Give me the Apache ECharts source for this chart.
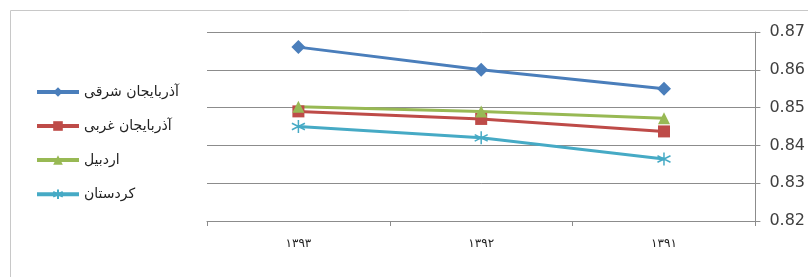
<!DOCTYPE html>
<html>
<head>
<meta charset="utf-8">
<script src="https://cdn.jsdelivr.net/npm/echarts@6/dist/echarts.min.js"></script>
<style>
  html, body { margin: 0; padding: 0; background: #fff; }
  #main { width: 808px; height: 277px; }
</style>
</head>
<body>
<div id="main"></div>
<script>
// years (Persian digits), left to right as in the picture
var years = ['۱۳۹۳', '۱۳۹۲', '۱۳۹۱'];
var names = ['آذربایجان شرقی', 'آذربایجان غربی', 'اردبیل', 'کردستان'];
var eastAzarbaijan = [0.866, 0.860, 0.855];
var westAzarbaijan = [0.849, 0.847, 0.8437];
var ardabil = [0.8502, 0.849, 0.8472];
var kurdistan = [0.845, 0.842, 0.8364];

var colors = ['#4a7ebb', '#be4b48', '#98b954', '#46aac5'];
var asterisk = 'path://M5,0L5,10M0.7,2.5L9.3,7.5M9.3,2.5L0.7,7.5';

function lineSeries(name, values, color, symbol, size, extra) {
    var s = {
        name: name,
        type: 'line',
        data: values,
        symbol: symbol,
        symbolSize: size,
        lineStyle: { color: color, width: 3 },
        itemStyle: { color: color },
        z: 3
    };
    if (extra) {
        Object.assign(s.itemStyle, extra);
    }
    return s;
}

var chart = echarts.init(document.getElementById('main'));
chart.setOption({
    animation: false,
    textStyle: { fontFamily: 'DejaVu Sans, sans-serif' },
    graphic: [{
        type: 'rect',
        shape: { x: 10.5, y: 10.5, width: 820, height: 300 },
        style: { fill: 'none', stroke: '#c8c8c8', lineWidth: 1 },
        silent: true
    }],
    legend: {
        orient: 'vertical',
        left: 30,
        top: 80,
        itemGap: 20,
        itemWidth: 42,
        itemHeight: 12,
        lineStyle: { width: 4 },
        textStyle: { fontSize: 14, color: '#222' },
        data: names
    },
    grid: { left: 207, right: 50, top: 32, bottom: 56 },
    xAxis: {
        type: 'category',
        data: years,
        boundaryGap: true,
        axisLine: { lineStyle: { color: '#8c8c8c' } },
        axisTick: { show: true, length: 5, lineStyle: { color: '#8c8c8c' } },
        axisLabel: { fontSize: 12, color: '#222', margin: 17 }
    },
    yAxis: {
        type: 'value',
        position: 'right',
        min: 0.82,
        max: 0.87,
        interval: 0.01,
        axisLine: { show: true, lineStyle: { color: '#8c8c8c' } },
        axisTick: { show: true, length: 5, lineStyle: { color: '#8c8c8c' } },
        splitLine: { lineStyle: { color: '#8c8c8c', width: 1 } },
        axisLabel: {
            fontSize: 16,
            color: '#404040',
            margin: 14,
            formatter: function (v) { return v.toFixed(2); }
        }
    },
    series: [
        lineSeries(names[0], eastAzarbaijan, colors[0], 'diamond', 14),
        lineSeries(names[1], westAzarbaijan, colors[1], 'rect', 12),
        lineSeries(names[2], ardabil, colors[2], 'triangle', 12),
        lineSeries(names[3], kurdistan, colors[3], asterisk, 13,
            { color: 'none', borderColor: colors[3], borderWidth: 1.5 })
    ]
});
</script>
</body>
</html>
